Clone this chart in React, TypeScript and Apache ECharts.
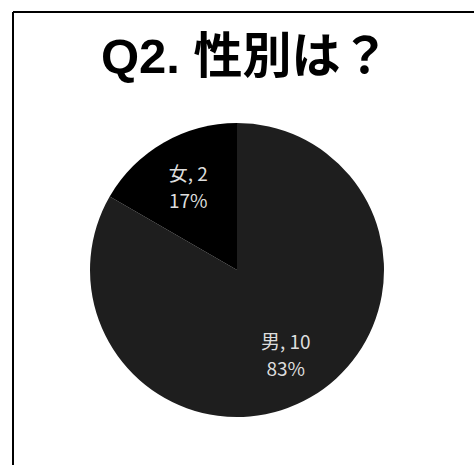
import React, { useEffect, useRef } from "react";
import * as echarts from "echarts";

const categories = ["男", "女"];
const counts = [10, 2];
const percents = ["83%", "17%"];
const titleText = "Q2. 性別は？";

export default function App() {
  const ref = useRef<HTMLDivElement>(null);
  useEffect(() => {
    const chart = echarts.init(ref.current!, null, { renderer: "svg" });
    const data = categories.map((c, i) => ({ name: c, value: counts[i], pct: percents[i] }));
    chart.setOption({
      animation: false,
      backgroundColor: "#ffffff",
      title: {
        text: titleText,
        left: 96,
        top: 26,
        textStyle: {
          fontFamily: "'Liberation Sans', 'Noto Sans CJK JP', sans-serif",
          fontSize: 49,
          fontWeight: "bold",
          color: "#000",
        },
      },
      graphic: [
        { type: "line", shape: { x1: 13, y1: 12, x2: 474, y2: 12 }, style: { stroke: "#000", lineWidth: 2 } },
        { type: "line", shape: { x1: 13, y1: 12, x2: 13, y2: 465 }, style: { stroke: "#000", lineWidth: 2 } },
      ],
      series: [
        {
          type: "pie",
          center: [237, 270],
          radius: [0, 147],
          startAngle: 90,
          clockwise: true,
          silent: true,
          label: { show: false },
          labelLine: { show: false },
          itemStyle: { borderWidth: 0 },
          data: data.map((d, i) => ({
            name: d.name,
            value: d.value,
            itemStyle: { color: i === 0 ? "#1e1e1e" : "#000000" },
          })),
        },
        {
          type: "pie",
          center: [237, 270],
          radius: [42, 147],
          startAngle: 90,
          clockwise: true,
          silent: true,
          itemStyle: { color: "rgba(0,0,0,0)" },
          labelLine: { show: false },
          label: {
            show: true,
            position: "inside",
            color: "#dddddd",
            fontFamily: "'Noto Sans CJK JP', sans-serif",
            fontSize: 19,
            lineHeight: 27,
            formatter: (p: any) => `${p.name}, ${p.value}\n${p.data.pct}`,
          },
          data: data.map((d) => ({ name: d.name, value: d.value, pct: d.pct })),
        },
      ],
    });
    return () => chart.dispose();
  }, []);
  return (
    <div
      ref={ref}
      style={{ position: "fixed", left: 0, top: 0, width: 474, height: 465 }}
    />
  );
}
